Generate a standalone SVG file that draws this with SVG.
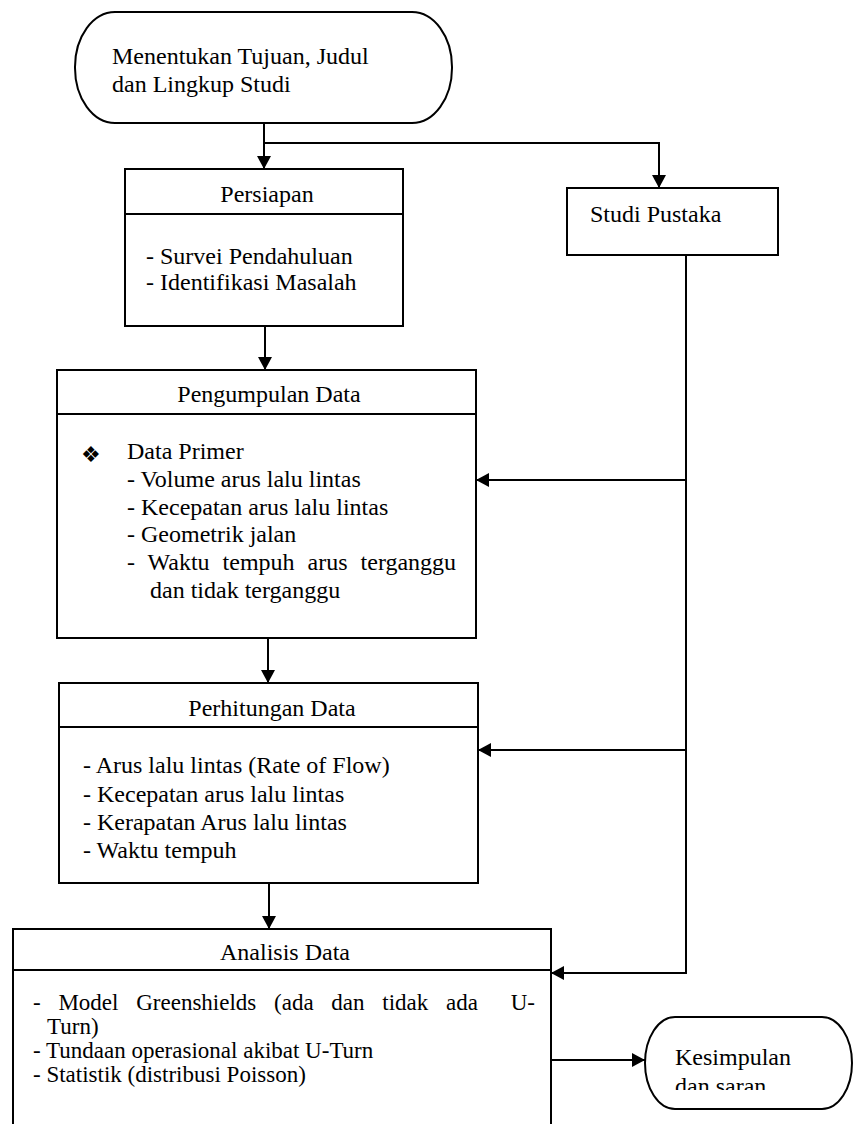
<svg xmlns="http://www.w3.org/2000/svg" width="853" height="1124" viewBox="0 0 853 1124">
<style>
.box{fill:#fff;stroke:#000;stroke-width:2}
.ln{fill:none;stroke:#000;stroke-width:2}
.t{font-family:"Liberation Serif","Times New Roman",serif;font-size:24px;fill:#000}
.ti{font-family:"Liberation Serif","Times New Roman",serif;font-size:24px;fill:#000;text-anchor:middle}
.ta{font-family:"Liberation Serif","Times New Roman",serif;font-size:23px;fill:#000}
.bul{font-family:"DejaVu Sans",sans-serif;font-size:22px;fill:#000}
</style>
<defs>
<marker id="arr" markerUnits="userSpaceOnUse" markerWidth="14" markerHeight="14" refX="13" refY="7" orient="auto">
<path d="M0,0 L13,7 L0,14 z" fill="#000"/>
</marker>
<clipPath id="kclip"><rect x="640" y="1010" width="213" height="80"/></clipPath>
</defs>

<g id="start">
<rect class="box" x="75" y="12" width="377" height="111" rx="40" ry="55"/>
<text class="t" x="112" y="64">Menentukan Tujuan, Judul</text>
<text class="t" x="112" y="92">dan Lingkup Studi</text>
</g>

<g id="persiapan">
<rect class="box" x="125" y="169" width="278" height="157"/>
<line class="ln" x1="125" y1="214" x2="403" y2="214"/>
<text class="ti" x="267" y="202">Persiapan</text>
<text class="t" x="146" y="264">- Survei Pendahuluan</text>
<text class="t" x="146" y="290">- Identifikasi Masalah</text>
</g>

<g id="studi">
<rect class="box" x="567" y="188" width="211" height="67"/>
<text class="t" x="590" y="222">Studi Pustaka</text>
</g>

<g id="pengumpulan">
<rect class="box" x="57" y="370" width="419" height="268"/>
<line class="ln" x1="57" y1="414" x2="476" y2="414"/>
<text class="ti" x="269" y="402">Pengumpulan Data</text>
<text class="bul" x="81" y="462">❖</text>
<text class="t" x="127" y="459">Data Primer</text>
<text class="t" x="127" y="487">- Volume arus lalu lintas</text>
<text class="t" x="127" y="515">- Kecepatan arus lalu lintas</text>
<text class="t" x="127" y="542">- Geometrik jalan</text>
<text class="t" x="127" y="570" word-spacing="7">- Waktu tempuh arus terganggu</text>
<text class="t" x="150" y="598">dan tidak terganggu</text>
</g>

<g id="perhitungan">
<rect class="box" x="59" y="683" width="419" height="200"/>
<line class="ln" x1="59" y1="727" x2="478" y2="727"/>
<text class="ti" x="272" y="716">Perhitungan Data</text>
<text class="t" x="83" y="773">- Arus lalu lintas (Rate of Flow)</text>
<text class="t" x="83" y="802">- Kecepatan arus lalu lintas</text>
<text class="t" x="83" y="830">- Kerapatan Arus lalu lintas</text>
<text class="t" x="83" y="858">- Waktu tempuh</text>
</g>

<g id="analisis">
<path d="M13,1130 V929 H551 V1130" fill="#fff" stroke="#000" stroke-width="2"/>
<line class="ln" x1="13" y1="970" x2="551" y2="970"/>
<text class="ti" x="285" y="960">Analisis Data</text>
<text class="ta" x="33" y="1010" word-spacing="12">- Model Greenshields (ada dan tidak ada</text>
<text class="ta" x="535" y="1010" text-anchor="end">U-</text>
<text class="ta" x="47" y="1034">Turn)</text>
<text class="ta" x="33" y="1058">- Tundaan operasional akibat U-Turn</text>
<text class="ta" x="33" y="1082">- Statistik (distribusi Poisson)</text>
</g>

<g id="kesimpulan">
<rect class="box" x="645" y="1017" width="207" height="92" rx="30" ry="46"/>
<text class="t" x="675" y="1065">Kesimpulan</text>
<text class="t" x="675" y="1094" clip-path="url(#kclip)">dan saran</text>
</g>

<g id="connectors">
<path class="ln" d="M264,123 V169" marker-end="url(#arr)"/>
<path class="ln" d="M264,143 H659 V188" marker-end="url(#arr)"/>
<path class="ln" d="M265,326 V370" marker-end="url(#arr)"/>
<path class="ln" d="M268,638 V683" marker-end="url(#arr)"/>
<path class="ln" d="M269,883 V929" marker-end="url(#arr)"/>
<path class="ln" d="M686,255 V973 H551" marker-end="url(#arr)"/>
<path class="ln" d="M686,480 H476" marker-end="url(#arr)"/>
<path class="ln" d="M686,750 H478" marker-end="url(#arr)"/>
<path class="ln" d="M551,1060 H645" marker-end="url(#arr)"/>
</g>
</svg>
